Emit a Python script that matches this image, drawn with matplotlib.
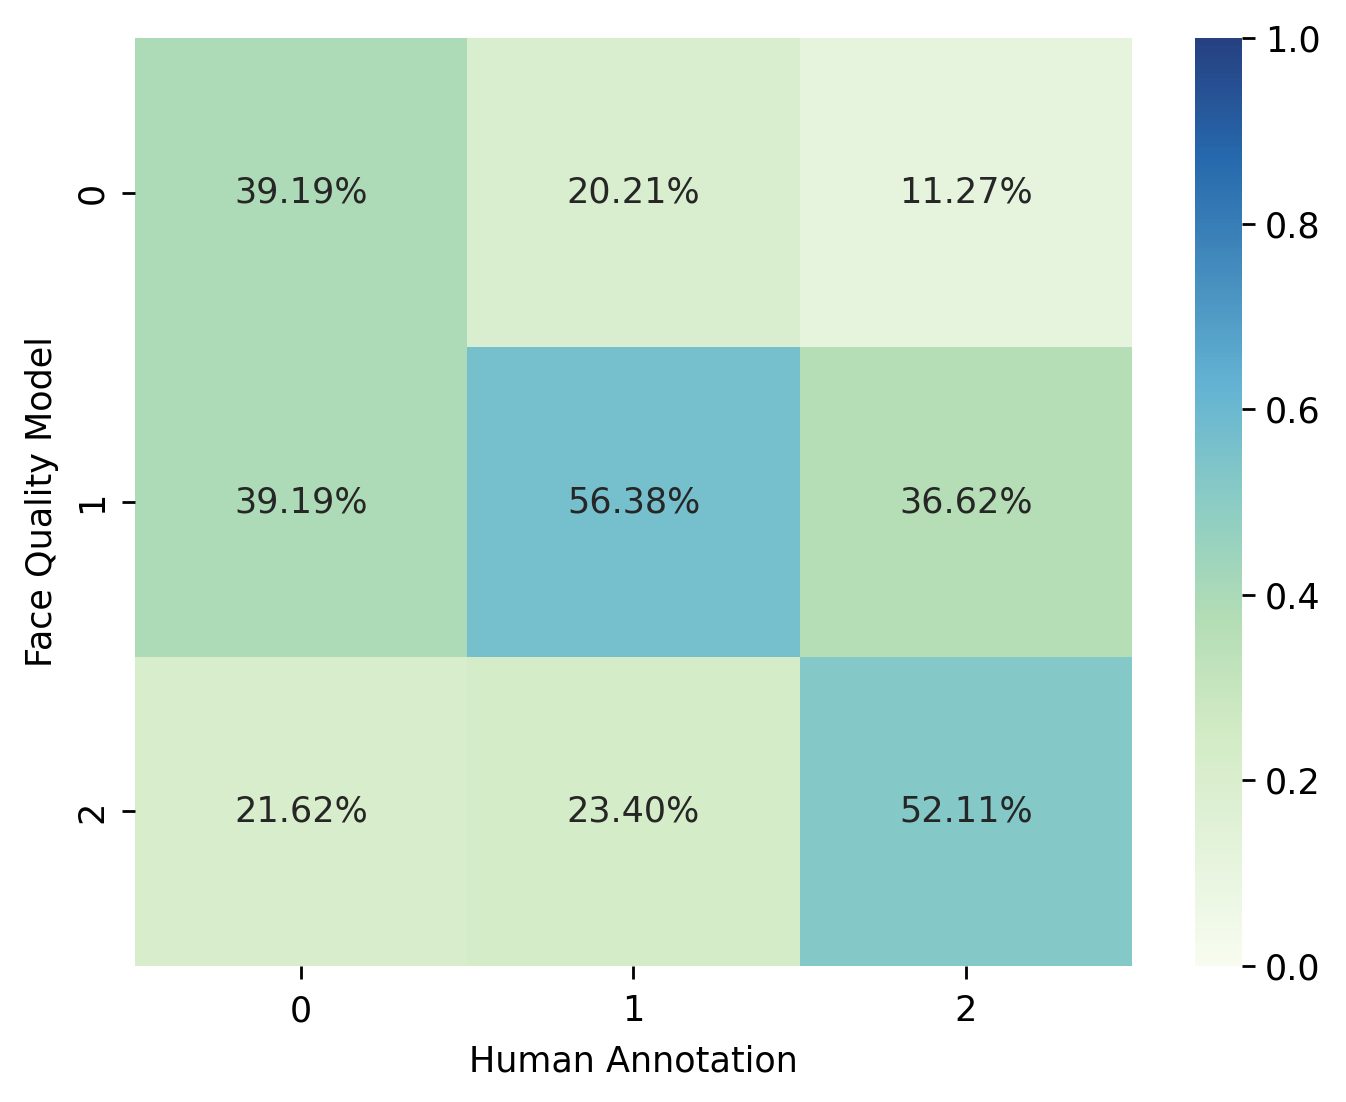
import numpy as np
import matplotlib
matplotlib.use("Agg")
import matplotlib.pyplot as plt
from matplotlib.colors import ListedColormap
import seaborn as sns

row_labels = ["0", "1", "2"]
col_labels = ["0", "1", "2"]
col_0 = [0.3919, 0.3919, 0.2162]
col_1 = [0.2021, 0.5638, 0.2340]
col_2 = [0.1127, 0.3662, 0.5211]

matrix = np.column_stack([col_0, col_1, col_2])

plt.rcParams.update({
    "font.size": 12.6,
    "axes.labelsize": 12.6,
    "xtick.labelsize": 12.6,
    "ytick.labelsize": 12.6,
    "xtick.major.size": 4.8,
    "ytick.major.size": 4.8,
    "xtick.major.width": 1.0,
    "ytick.major.width": 1.0,
})

# GnBu, slightly washed out in the red channel like the reference
base = plt.get_cmap("GnBu")(np.linspace(0, 1, 256))
base[:, 0] = base[:, 0] + 0.12 * (1 - base[:, 0])
cmap = ListedColormap(base)

fig = plt.figure(figsize=(6.73, 5.51), dpi=200)
ax = fig.add_axes([0.1003, 0.1234, 0.7407, 0.8421])
cax = fig.add_axes([0.8878, 0.1234, 0.0349, 0.8421])

sns.heatmap(matrix, annot=True, fmt=".2%", cmap=cmap, vmin=0, vmax=1,
            xticklabels=col_labels, yticklabels=row_labels, ax=ax, cbar_ax=cax)

ax.tick_params(axis="x", pad=5.3)
ax.tick_params(axis="y", pad=4.5)
ax.set_xlabel("Human Annotation", labelpad=6)
ax.set_ylabel("Face Quality Model", labelpad=6)

fig.savefig("out.png", dpi=200)
